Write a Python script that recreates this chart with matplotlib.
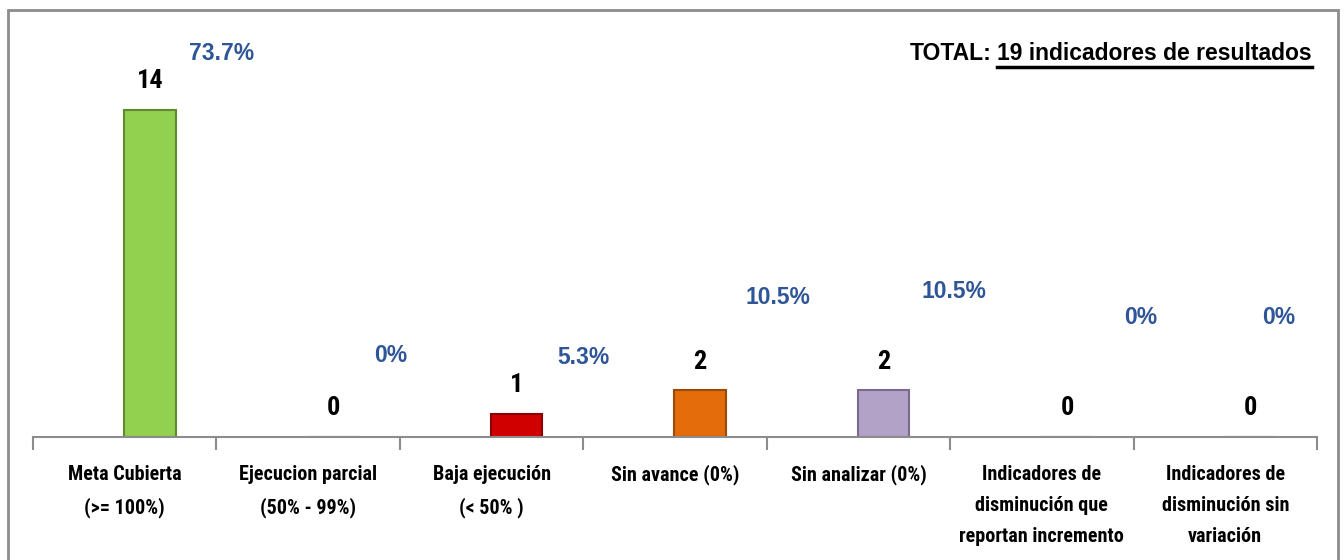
import numpy as np
import matplotlib.pyplot as plt
from matplotlib.patches import Rectangle
from matplotlib import font_manager
from matplotlib.font_manager import FontProperties

# Data
categorias = ['Meta Cubierta\n(>= 100%)', 'Ejecucion parcial\n(50% - 99%)', 'Baja ejecución\n(< 50% )',
              'Sin avance (0%)', 'Sin analizar (0%)', 'Indicadores de\ndisminución que\nreportan incremento',
              'Indicadores de\ndisminución sin\nvariación']
valores = [14, 0, 1, 2, 2, 0, 0]
porcentajes = ['73.7%', '0%', '5.3%', '10.5%', '10.5%', '0%', '0%']
total = 19

colores = ['#92D050', '#92D050', '#D00000', '#E46C0A', '#B3A2C7', '#B3A2C7', '#B3A2C7']
bordes = ['#5F8A2E', '#5F8A2E', '#8B0000', '#9A4A08', '#7A6A8E', '#7A6A8E', '#7A6A8E']

# manual placement of the percentage text boxes (offset in x, height in data units)
pct_dx = [0.53, 0.45, 0.50, 0.56, 0.52, 0.54, 0.29]
pct_y = [16.4, 3.5, 3.4, 5.95, 6.2, 5.1, 5.1]


def arial_bold(size):
    # Liberation Sans Bold (normal width); the family lookup tends to pick the Narrow face
    for f in font_manager.fontManager.ttflist:
        if f.name == 'Liberation Sans' and f.weight == 700 and f.style == 'normal' \
                and f.stretch == 'normal' and 'Narrow' not in f.fname:
            return FontProperties(fname=f.fname, size=size)
    return FontProperties(family='DejaVu Sans', weight='bold', size=size)


NARROW = dict(family=['Roboto Condensed', 'DejaVu Sans'], fontweight='bold')

fig = plt.figure(figsize=(13.44, 5.6), dpi=100)
ax = fig.add_axes([33 / 1344, 1 - 437 / 560, (1317 - 33) / 1344, (437 - 30) / 560])

x = np.arange(len(valores))
shift = 0.137  # bars sit right of the category centre (clustered with a hidden series)
bars = ax.bar(x + shift, valores, width=0.28, color=colores, edgecolor=bordes, linewidth=1.5)

for xi, v in zip(x, valores):
    ax.annotate(str(v), (xi + shift, v), xytext=(0, 12), textcoords='offset points',
                ha='center', va='bottom', fontsize=19, **NARROW)

for xi, p, dx, py in zip(x, porcentajes, pct_dx, pct_y):
    ax.text(xi + dx, py, p, ha='center', va='center', fontproperties=arial_bold(16.5),
            color='#2E5597', clip_on=False)

ax.set_xlim(-0.5, len(valores) - 0.5)
ax.set_ylim(0, 17.4)
ax.set_yticks([])
ax.set_xticks(x)
ax.set_xticklabels(categorias, fontsize=14.5, linespacing=1.82, **NARROW)
ax.set_xticks(np.arange(-0.5, len(valores)), minor=True)
ax.tick_params(axis='x', which='major', length=0, pad=20)
ax.tick_params(axis='x', which='minor', length=9, width=1.5, color='#8C8C8C')
for s in ['top', 'right', 'left']:
    ax.spines[s].set_visible(False)
ax.spines['bottom'].set_color('#8C8C8C')
ax.spines['bottom'].set_linewidth(1.5)

# TOTAL text with underlined part
t2 = fig.text(1312 / 1344, 1 - 53 / 560, f'{total} indicadores de resultados', ha='right', va='center',
              fontproperties=arial_bold(16.5))
fig.canvas.draw()
bb = t2.get_window_extent()
fig.text(bb.x0 / 1344 - 0.004, 1 - 53 / 560, 'TOTAL:', ha='right', va='center',
         fontproperties=arial_bold(16.5))
fig.add_artist(plt.Line2D([bb.x0 / 1344, bb.x1 / 1344], [(bb.y0 - 2) / 560] * 2, color='black', lw=2.5))

# outer frame of the chart area
fig.add_artist(Rectangle((8 / 1344, -0.1), (1338 - 8) / 1344, 1.1 - 10 / 560, fill=False,
                         edgecolor='#8C8C8C', linewidth=2, transform=fig.transFigure))

fig.savefig('out.png', dpi=100)
